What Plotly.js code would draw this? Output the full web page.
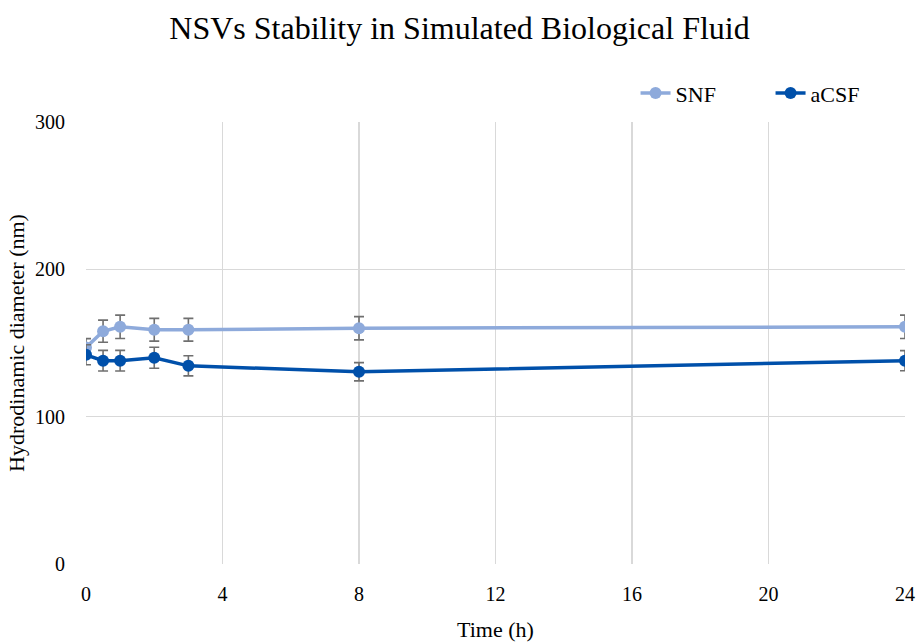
<!DOCTYPE html>
<html>
<head>
<meta charset="utf-8">
<script src="https://cdn.plot.ly/plotly-3.0.1.min.js"></script>
<style>html,body{margin:0;padding:0;background:#fff;}#chart{width:919px;height:642px;}</style>
</head>
<body>
<div id="chart"></div>
<script>
const timeH = [0, 0.5, 1, 2, 3, 8, 24];
const snfValues = [147, 158, 161, 159, 159, 160, 161];
const snfErrors = [6, 7.5, 7.9, 7.7, 7.7, 7.9, 7.9];
const acsfValues = [142, 138, 138, 140, 134.5, 130.5, 138];
const acsfErrors = [6.8, 7.0, 7.0, 7.1, 6.8, 6.2, 6.8];
const xTicks = [0, 4, 8, 12, 16, 20, 24];
const yTicks = [0, 100, 200, 300];

const font = 'Liberation Serif, Times New Roman, serif';
const errStyle = {type: 'data', visible: true, color: '#6f6f6f', thickness: 1.6, width: 5};

const traces = [
  {
    x: timeH, y: snfValues, name: 'SNF', type: 'scatter', mode: 'lines+markers',
    line: {color: '#8eaadb', width: 3.5}, marker: {color: '#8eaadb', size: 12},
    error_y: Object.assign({array: snfErrors}, errStyle)
  },
  {
    x: timeH, y: acsfValues, name: 'aCSF', type: 'scatter', mode: 'lines+markers',
    line: {color: '#0050aa', width: 3.5}, marker: {color: '#0050aa', size: 12},
    error_y: Object.assign({array: acsfErrors}, errStyle)
  }
];

const layout = {
  width: 919, height: 642,
  margin: {l: 86, r: 14, t: 122, b: 78},
  paper_bgcolor: '#fff', plot_bgcolor: '#fff',
  font: {family: font, color: '#000', size: 20},
  title: {text: 'NSVs Stability in Simulated Biological Fluid', font: {family: font, size: 32, color: '#000'}, x: 0.5, xanchor: 'center', y: 0.957, yanchor: 'middle'},
  showlegend: true,
  legend: {orientation: 'h', x: 0.671, xanchor: 'left', y: 1.065, yanchor: 'middle', font: {family: font, size: 22, color: '#000'}, entrywidth: 90, entrywidthmode: 'pixels', bgcolor: 'rgba(0,0,0,0)'},
  xaxis: {
    range: [0, 24], tickvals: xTicks, ticktext: xTicks.map(String),
    showgrid: true, gridcolor: '#d9d9d9', gridwidth: 1.3, zeroline: false,
    showline: false, ticks: 'outside', ticklen: 12, tickcolor: 'rgba(0,0,0,0)', tickfont: {family: font, size: 20, color: '#000'},
    title: {text: 'Time (h)', font: {family: font, size: 22, color: '#000'}, standoff: 17}
  },
  yaxis: {
    range: [0, 300], tickvals: yTicks, ticktext: yTicks.map(String),
    showgrid: true, gridcolor: '#d9d9d9', gridwidth: 1.3, zeroline: false,
    showline: false, ticks: 'outside', ticklen: 16, tickcolor: 'rgba(0,0,0,0)', tickfont: {family: font, size: 20, color: '#000'},
    title: {text: 'Hydrodinamic diameter (nm)', font: {family: font, size: 22, color: '#000'}, standoff: 4}
  }
};

Plotly.newPlot('chart', traces, layout, {displayModeBar: false, staticPlot: true});
</script>
</body>
</html>
